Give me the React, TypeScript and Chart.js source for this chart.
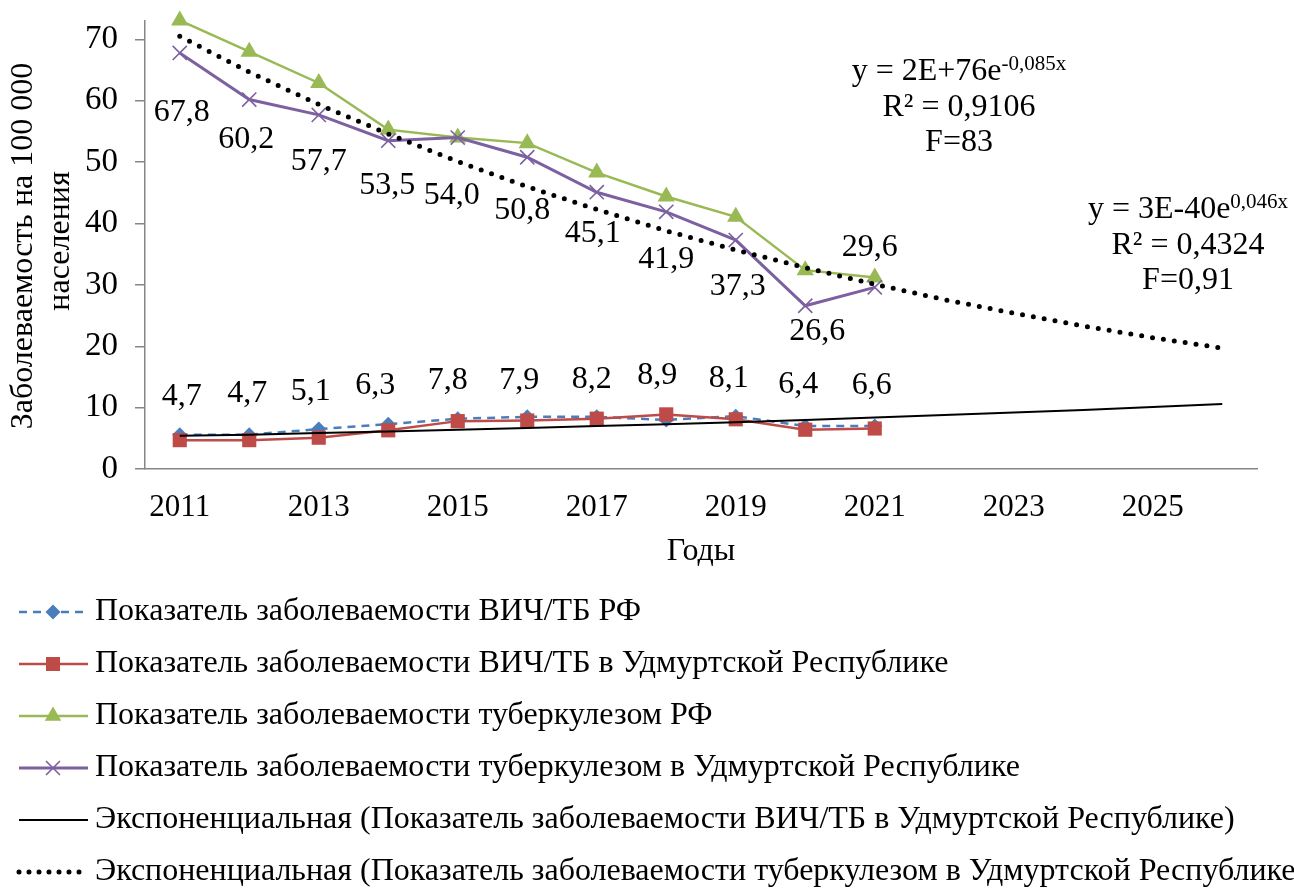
import React, { useEffect, useRef } from 'react';
import { Chart, registerables } from 'chart.js';

Chart.register(...registerables);

const FONT = "'Liberation Serif', 'Times New Roman', serif";

// ---- Data ----
const years = ['2011', '2012', '2013', '2014', '2015', '2016', '2017', '2018', '2019', '2020', '2021', '2022', '2023', '2024', '2025', '2026'];
const hivRF = [5.6, 5.6, 6.5, 7.3, 8.2, 8.5, 8.5, 8.0, 8.6, 7.0, 7.0];
const hivUdm = [4.7, 4.7, 5.1, 6.3, 7.8, 7.9, 8.2, 8.9, 8.1, 6.4, 6.6];
const tbRF = [73.1, 68.0, 62.9, 55.3, 54.0, 53.1, 48.3, 44.4, 41.1, 32.4, 31.2];
const tbUdm = [67.8, 60.2, 57.7, 53.5, 54.0, 50.8, 45.1, 41.9, 37.3, 26.6, 29.6];
const hivUdmTrend = [5.4, 5.6, 5.85, 6.1, 6.4, 6.7, 7.0, 7.3, 7.6, 8.0, 8.4, 8.8, 9.2, 9.6, 10.1, 10.6];
const tbUdmTrend = [70.5, 64.7, 59.4, 54.6, 50.1, 46.0, 42.3, 38.8, 35.7, 32.8, 30.1, 27.6, 25.4, 23.3, 21.4, 19.7];
const yTicks = [0, 10, 20, 30, 40, 50, 60, 70];

const seriesNames = [
  'Показатель заболеваемости ВИЧ/ТБ РФ',
  'Показатель заболеваемости ВИЧ/ТБ в Удмуртской Республике',
  'Показатель заболеваемости туберкулезом РФ',
  'Показатель заболеваемости туберкулезом в Удмуртской Республике',
  'Экспоненциальная (Показатель заболеваемости ВИЧ/ТБ в Удмуртской Республике)',
  'Экспоненциальная (Показатель заболеваемости туберкулезом в Удмуртской Республике',
];
const xTitle = 'Годы';
const yTitleLines = ['Заболеваемость на 100 000', 'населения'];
const eqTb = { main: 'y = 2E+76e', sup: '-0,085x', r2: 'R² = 0,9106', f: 'F=83' };
const eqHiv = { main: 'y = 3E-40e', sup: '0,046x', r2: 'R² = 0,4324', f: 'F=0,91' };

// ---- Styles ----
const BLUE = '#4A7EBB';
const RED = '#BE4B48';
const GREEN = '#98B954';
const PURPLE = '#7D60A0';
const AXIS = '#868686';
const FS = 32;
const FS_XT = 31;
const FS_YT = 33;

// label placement (pixel offsets from the point)
const tbLabelDx = [2, -3, 0, -1, -6, -5, -4, 0, 2, 12, -5];
const tbLabelDy = [60, 40, 47, 45, 58, 53, 41, 48, 47, 26, -40];
const hivLabelDx = [2, -2, -8, -13, -10, -8, -5, -9, -7, -7, -3];
const hivLabelDy = [-44, -47, -46, -45, -41, -40, -39, -39, -41, -45, -43];

const fmt = (v: number) => v.toFixed(1).replace('.', ',');

function drawMarker(ctx: CanvasRenderingContext2D, kind: string, x: number, y: number, color: string) {
  ctx.save();
  ctx.fillStyle = color;
  ctx.strokeStyle = color;
  if (kind === 'diamond') {
    const r = 7.5;
    ctx.beginPath();
    ctx.moveTo(x - r, y); ctx.lineTo(x, y - r); ctx.lineTo(x + r, y); ctx.lineTo(x, y + r);
    ctx.closePath(); ctx.fill();
  } else if (kind === 'square') {
    ctx.fillRect(x - 7, y - 7, 14, 14);
  } else if (kind === 'triangle') {
    const r = 9.5;
    ctx.beginPath();
    ctx.moveTo(x, y - r);
    ctx.lineTo(x + r * 0.866, y + r * 0.5);
    ctx.lineTo(x - r * 0.866, y + r * 0.5);
    ctx.closePath(); ctx.fill();
  } else if (kind === 'x') {
    const r = 7;
    ctx.lineWidth = 1.6;
    ctx.beginPath();
    ctx.moveTo(x - r, y - r); ctx.lineTo(x + r, y + r);
    ctx.moveTo(x + r, y - r); ctx.lineTo(x - r, y + r);
    ctx.stroke();
  }
  ctx.restore();
}

const overlayPlugin = {
  id: 'overlay',
  afterDatasetsDraw(chart: any) {
    const ctx: CanvasRenderingContext2D = chart.ctx;
    ctx.save();
    ctx.font = `${FS}px ${FONT}`;
    ctx.fillStyle = '#000';
    ctx.textAlign = 'center';
    ctx.textBaseline = 'middle';
    const tbMeta = chart.getDatasetMeta(3);
    tbMeta.data.forEach((pt: any, i: number) => {
      if (tbUdm[i] == null) return;
      ctx.fillText(fmt(tbUdm[i]), pt.x + tbLabelDx[i], pt.y + tbLabelDy[i]);
    });
    const hivMeta = chart.getDatasetMeta(1);
    hivMeta.data.forEach((pt: any, i: number) => {
      if (hivUdm[i] == null) return;
      ctx.fillText(fmt(hivUdm[i]), pt.x + hivLabelDx[i], pt.y + hivLabelDy[i]);
    });
    ctx.restore();
  },
  afterDraw(chart: any) {
    const ctx: CanvasRenderingContext2D = chart.ctx;
    const area = chart.chartArea;
    ctx.save();
    ctx.fillStyle = '#000';
    ctx.textBaseline = 'middle';
    ctx.textAlign = 'center';
    ctx.font = `${FS}px ${FONT}`;

    // x axis title
    ctx.fillText(xTitle, (area.left + area.right) / 2, 552);

    // y axis title
    ctx.save();
    ctx.translate(24, 246);
    ctx.rotate(-Math.PI / 2);
    ctx.fillText(yTitleLines[0], 0, 0);
    ctx.restore();
    ctx.save();
    ctx.translate(61, 241);
    ctx.rotate(-Math.PI / 2);
    ctx.fillText(yTitleLines[1], 0, 0);
    ctx.restore();

    // equations
    const supFs = Math.round(FS * 0.66);
    const drawEq = (eq: any, cx: number, cy: number) => {
      ctx.textAlign = 'left';
      ctx.font = `${FS}px ${FONT}`;
      const wm = ctx.measureText(eq.main).width;
      ctx.font = `${supFs}px ${FONT}`;
      const ws = ctx.measureText(eq.sup).width;
      const x0 = cx - (wm + ws) / 2;
      ctx.font = `${FS}px ${FONT}`;
      ctx.fillText(eq.main, x0, cy);
      ctx.font = `${supFs}px ${FONT}`;
      ctx.fillText(eq.sup, x0 + wm, cy - 8);
      ctx.font = `${FS}px ${FONT}`;
      ctx.textAlign = 'center';
      ctx.fillText(eq.r2, cx, cy + 36);
      ctx.fillText(eq.f, cx, cy + 71);
    };
    drawEq(eqTb, 959, 72);
    drawEq(eqHiv, 1188, 210);

    // legend
    const rowY0 = 612;
    const rowStep = 52;
    const x1 = 19, x2 = 88, mx = 53;
    ctx.font = `${FS}px ${FONT}`;
    ctx.textAlign = 'left';
    const styles = [
      { color: BLUE, dash: [8, 6], marker: 'diamond', w: 2.5 },
      { color: RED, dash: [], marker: 'square', w: 2.5 },
      { color: GREEN, dash: [], marker: 'triangle', w: 2.5 },
      { color: PURPLE, dash: [], marker: 'x', w: 3 },
      { color: '#000', dash: [], marker: '', w: 2 },
      { color: '#000', dash: [0, 10], marker: '', w: 5, round: true },
    ];
    styles.forEach((s: any, i) => {
      const y = rowY0 + i * rowStep;
      ctx.save();
      ctx.strokeStyle = s.color;
      ctx.lineWidth = s.w;
      ctx.setLineDash(s.dash);
      ctx.lineCap = s.round ? 'round' : 'butt';
      ctx.beginPath();
      ctx.moveTo(x1, y);
      ctx.lineTo(x2, y);
      ctx.stroke();
      ctx.restore();
      if (s.marker) drawMarker(ctx, s.marker, mx, y, s.color);
      ctx.fillStyle = '#000';
      ctx.fillText(seriesNames[i], 95, y);
    });
    ctx.restore();
  },
};

export default function App() {
  const ref = useRef<HTMLCanvasElement>(null);
  useEffect(() => {
    if (!ref.current) return;
    const chart = new Chart(ref.current, {
      type: 'line',
      data: {
        labels: years,
        datasets: [
          {
            label: seriesNames[0], data: hivRF, borderColor: BLUE, backgroundColor: BLUE,
            borderDash: [8, 6], borderWidth: 2.5, pointStyle: 'rectRot', pointRadius: 7.5,
            pointBackgroundColor: BLUE, pointBorderColor: BLUE, pointBorderWidth: 0, order: 6, clip: false,
          },
          {
            label: seriesNames[1], data: hivUdm, borderColor: RED, backgroundColor: RED,
            borderWidth: 2.5, pointStyle: 'rect', pointRadius: 10,
            pointBackgroundColor: RED, pointBorderColor: RED, pointBorderWidth: 0, order: 5, clip: false,
          },
          {
            label: seriesNames[2], data: tbRF, borderColor: GREEN, backgroundColor: GREEN,
            borderWidth: 2.5, pointStyle: 'triangle', pointRadius: 10,
            pointBackgroundColor: GREEN, pointBorderColor: GREEN, pointBorderWidth: 0, order: 4, clip: false,
          },
          {
            label: seriesNames[3], data: tbUdm, borderColor: PURPLE, backgroundColor: PURPLE,
            borderWidth: 3, pointStyle: 'crossRot', pointRadius: 10,
            pointBackgroundColor: PURPLE, pointBorderColor: PURPLE, pointBorderWidth: 1.6, order: 3, clip: false,
          },
          {
            label: seriesNames[4], data: hivUdmTrend, borderColor: '#000', backgroundColor: '#000',
            borderWidth: 2, pointRadius: 0, order: 2, clip: false,
          },
          {
            label: seriesNames[5], data: tbUdmTrend, borderColor: '#000', backgroundColor: '#000',
            borderWidth: 5, borderDash: [0, 11], borderCapStyle: 'round', pointRadius: 0, order: 1, clip: false,
          },
        ],
      },
      options: {
        responsive: false,
        animation: false,
        events: [],
        layout: { padding: { top: 21, right: 37, left: 0, bottom: 0 } },
        plugins: { legend: { display: false }, tooltip: { enabled: false } },
        scales: {
          x: {
            type: 'category',
            offset: true,
            grid: { display: false, drawTicks: false },
            border: { display: true, color: AXIS, width: 1.5 },
            ticks: {
              autoSkip: false, maxRotation: 0, minRotation: 0, padding: 20,
              font: { family: FONT, size: FS_XT }, color: '#000',
              callback: (_v: any, idx: number) => (idx % 2 === 0 ? years[idx] : ''),
            },
            afterFit: (s: any) => { s.height = 420; s.paddingLeft = 0; s.paddingRight = 0; },
          },
          y: {
            min: 0, max: 73,
            grid: { display: true, drawOnChartArea: false, drawTicks: true, tickLength: 10, color: AXIS, lineWidth: 1.5 },
            border: { display: true, color: AXIS, width: 1.5 },
            ticks: { stepSize: 10, padding: 17, font: { family: FONT, size: FS_YT }, color: '#000' },
            afterBuildTicks: (s: any) => { s.ticks = yTicks.map((v) => ({ value: v })); },
            afterFit: (s: any) => { s.width = 145; s.paddingTop = 0; s.paddingBottom = 0; },
          },
        },
      },
      plugins: [overlayPlugin],
    } as any);
    return () => chart.destroy();
  }, []);
  return (
    <div style={{ position: 'fixed', left: 0, top: 0, width: 1294, height: 889, background: '#fff' }}>
      <canvas ref={ref} width={1294} height={889} style={{ width: 1294, height: 889 }} />
    </div>
  );
}
